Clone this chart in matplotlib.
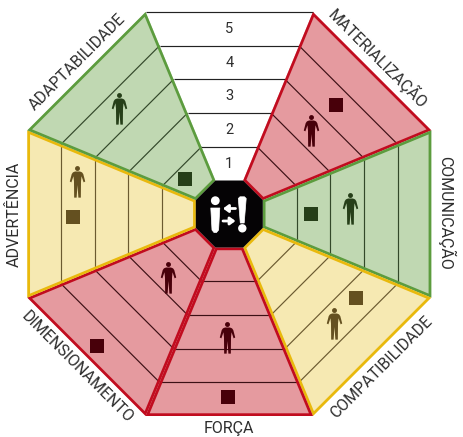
import numpy as np
import matplotlib
matplotlib.use('Agg')
import matplotlib.pyplot as plt
from matplotlib.patches import Polygon, Circle
from matplotlib.path import Path

plt.rcParams['font.family'] = ['Roboto', 'DejaVu Sans']

# ===== DATA =====
# clockwise from the top; the first sector is the white scale
sector_names = ['', 'MATERIALIZAÇÃO', 'COMUNICAÇÃO', 'COMPATIBILIDADE', 'FORÇA',
                'DIMENSIONAMENTO', 'ADVERTÊNCIA', 'ADAPTABILIDADE']
sector_status = ['scale', 'red', 'green', 'yellow', 'red', 'red', 'yellow', 'green']
scale_labels = ['1', '2', '3', '4', '5']

# level on the 0-5 radial scale, offset across the sector
person_level = [None, 2.47, 2.6, 3.48, 2.65, 1.61, 3.52, 3.55]
person_offset = [0, -1.4, -6, 2.8, 2.5, -1, 33, -3.5]
square_level = [None, 3.53, 1.43, 3.42, 4.45, 4.54, 3.64, 0.66]
square_offset = [0, -1.4, 0, -30.4, 1.5, 0, -3, -6.7]

# ===== STYLE =====
CX, CY = 229.3, 214
R_IN, R_OUT = 33.5, 202
BAND = (R_OUT - R_IN) / 5
TAN = np.tan(np.radians(22.5))
fills = {'scale': '#ffffff', 'red': '#e59a9f', 'green': '#c0d8b2', 'yellow': '#f6e9b2'}
edges = {'scale': '#ffffff', 'red': '#c10c1f', 'green': '#5c9c3e', 'yellow': '#e9b90c'}
darks = {'scale': '#303030', 'red': '#48000a', 'green': '#263f19', 'yellow': '#645020'}
band_colors = {'scale': '#222222', 'red': '#3c1015', 'green': '#33482a', 'yellow': '#6b5a30'}
TEXT = '#2e2e2e'

# label centre and rotation, same order as sector_names
label_pos = [None, (378, 58.5, -45), (446, 212.5, -90), (381.5, 367, 45), (229, 433.3, 0),
             (77, 367, -45), (14, 214, 90), (77.5, 62, 45)]


def to_xy(sector, t, lat):
    # t = distance out from centre, lat = offset across the sector
    a = np.radians(45 * sector)
    x = CX + t * np.sin(a) + lat * np.cos(a)
    y = CY - t * np.cos(a) + lat * np.sin(a)
    return x, y


def level_r(level):
    return R_IN + level * BAND


def person_marker():
    head = Path.circle((0, 0.74), 0.14)
    body = Path([(-0.14, 0.57), (0.14, 0.57), (0.26, 0.52), (0.33, 0.42), (0.44, 0.0), (0.35, -0.05),
                 (0.23, 0.3), (0.2, 0.0), (0.19, -0.92), (0.05, -0.92), (0.0, -0.2), (-0.05, -0.92),
                 (-0.19, -0.92), (-0.2, 0.0), (-0.23, 0.3), (-0.35, -0.05), (-0.44, 0.0),
                 (-0.33, 0.42), (-0.26, 0.52), (-0.14, 0.57)], closed=True)
    return Path.make_compound_path(head, body)


fig = plt.figure(figsize=(4.63, 4.37), dpi=100)
ax = fig.add_axes([0, 0, 1, 1])
ax.set_xlim(0, 463)
ax.set_ylim(437, 0)
ax.axis('off')

person = person_marker()

# ===== SECTORS =====
for i, status in enumerate(sector_status):
    w_in, w_out = R_IN * TAN, R_OUT * TAN
    corners = [to_xy(i, R_IN, -w_in), to_xy(i, R_IN, w_in), to_xy(i, R_OUT, w_out), to_xy(i, R_OUT, -w_out)]
    ax.add_patch(Polygon(corners, closed=True, fc=fills[status], ec='none', zorder=1))

    for b in range(1, 6 if status == 'scale' else 5):
        t = level_r(b)
        p, q = to_xy(i, t, -t * TAN), to_xy(i, t, t * TAN)
        ax.plot([p[0], q[0]], [p[1], q[1]], color=band_colors[status], lw=0.85, zorder=2,
                solid_capstyle='butt')

    if status == 'scale':
        continue

    # stroke kept inside the sector so neighbours show both colours
    border = Polygon(corners, closed=True, fc='none', ec=edges[status], lw=3.9, zorder=3, joinstyle='miter')
    ax.add_patch(border)
    border.set_clip_path(Polygon(corners, closed=True, transform=ax.transData))

    px, py = to_xy(i, level_r(person_level[i]), person_offset[i])
    ax.scatter([px], [py], marker=person, s=540, color=darks[status], linewidths=0, zorder=4)
    sx, sy = to_xy(i, level_r(square_level[i]), square_offset[i])
    ax.scatter([sx], [sy], marker='s', s=112, color=darks[status], linewidths=0, zorder=4)

for b, lab in enumerate(scale_labels):
    x, y = to_xy(0, level_r(b + 0.5), 0)
    ax.text(x, y, lab, ha='center', va='center', fontsize=10.5, color=TEXT, zorder=4)

# ===== CENTRE BADGE =====
hub = [to_xy(i, R_IN, s * R_IN * TAN) for i in range(8) for s in (-1, 1)]
ax.add_patch(Polygon(hub, closed=True, fc='#050305', ec='none', zorder=5))

ax.add_patch(Circle((215.3, 200.7), 4.4, fc='white', ec='none', zorder=6))
ax.add_patch(Polygon([(210.8, 208), (219.8, 208), (218.6, 230), (216.5, 232.5), (214, 232.5), (212, 230)],
                     closed=True, fc='white', ec='white', lw=0.5, joinstyle='round', zorder=6))
ax.add_patch(Polygon([(238.3, 198.5), (240, 196.8), (244.5, 196.8), (246.2, 198.5), (244.2, 223), (240.3, 223)],
                     closed=True, fc='white', ec='white', lw=0.5, joinstyle='round', zorder=6))
ax.add_patch(Circle((242.3, 228.3), 4.2, fc='white', ec='none', zorder=6))
ax.annotate('', xy=(223, 208.5), xytext=(235.5, 208.5),
            arrowprops=dict(arrowstyle='-|>,head_width=0.22,head_length=0.3', color='white', lw=2, shrinkA=0, shrinkB=0),
            zorder=6)
ax.annotate('', xy=(235.5, 221), xytext=(223, 221),
            arrowprops=dict(arrowstyle='-|>,head_width=0.22,head_length=0.3', color='white', lw=2, shrinkA=0, shrinkB=0),
            zorder=6)

# ===== LABELS =====
for name, pos in zip(sector_names, label_pos):
    if pos is None:
        continue
    va = 'baseline' if name == 'FORÇA' else 'center'
    ax.text(pos[0], pos[1], name, rotation=pos[2], rotation_mode='anchor', ha='center', va=va,
            fontsize=11.5, color=TEXT)

fig.savefig('out.png', dpi=100)
